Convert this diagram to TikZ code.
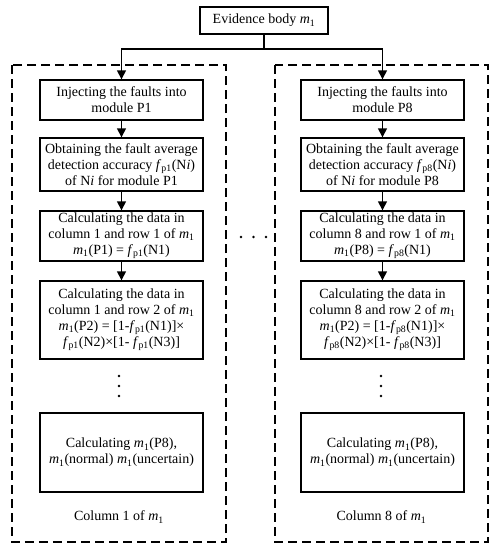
\documentclass[tikz,border=0pt]{standalone}
\usepackage{fontspec}
\setmainfont{Liberation Serif}
\usetikzlibrary{arrows.meta}
\newcommand{\mi}{\textit{m}\textsubscript{1}}
\newcommand{\fp}[1]{\textit{f}\textsubscript{p#1}}
\tikzset{
  stepbox/.style={draw, line width=1.4pt, align=center, inner sep=1pt, font=\fontsize{14}{16}\selectfont},
  colbox/.style={draw, dashed, dash pattern=on 9pt off 5pt, line width=1.3pt},
  arr/.style={line width=1.4pt, -{Triangle[length=9pt,width=9pt]}},
  lnk/.style={line width=1.4pt},
  lbl/.style={font=\fontsize{14}{16}\selectfont},
  dotn/.style={circle, fill, inner sep=0pt, minimum size=2.8pt}
}
\begin{document}
\begin{tikzpicture}[x=1pt,y=-1pt]
\useasboundingbox (0,0) rectangle (497,550);
% column frames
\draw[colbox] (12,65) rectangle (226,542);
\draw[colbox] (275,65) rectangle (488,542);
% top
\node[stepbox, minimum width=128pt, minimum height=27pt] (top) at (264,20.5) {Evidence body \mi};
\coordinate (split) at (264,49);
% left column
\node[stepbox, minimum width=163pt, minimum height=40pt] (L1) at (121.5,100) {Injecting the faults into\\module P1};
\node[stepbox, minimum width=163pt, minimum height=53pt] (L2) at (121.5,164.5) {Obtaining the fault average\\detection accuracy \fp{1}(N\textit{i})\\of N\textit{i} for module P1};
\node[stepbox, minimum width=163pt, minimum height=50pt] (L3) at (121.5,236) {Calculating the data in\\column 1 and row 1 of \mi\\\mi(P1) = \fp{1}(N1)};
\node[stepbox, minimum width=163pt, minimum height=78pt] (L4) at (121.5,320) {Calculating the data in\\column 1 and row 2 of \mi\\\mi(P2) = [1-\fp{1}(N1)]×\\\fp{1}(N2)×[1- \fp{1}(N3)]};
\node[stepbox, minimum width=163pt, minimum height=79pt] (L5) at (121.5,452.5) {Calculating \mi(P8),\\\mi(normal) \mi(uncertain)};
\node[dotn] (ld1) at (119,376) {};
\node[dotn] (ld2) at (119,386) {};
\node[dotn] (ld3) at (119,396) {};
\node[lbl] (lc) at (119,517) {Column 1 of \mi};
% right column
\node[stepbox, minimum width=163pt, minimum height=40pt] (R1) at (382.5,100) {Injecting the faults into\\module P8};
\node[stepbox, minimum width=163pt, minimum height=53pt] (R2) at (382.5,164.5) {Obtaining the fault average\\detection accuracy \fp{8}(N\textit{i})\\of N\textit{i} for module P8};
\node[stepbox, minimum width=163pt, minimum height=50pt] (R3) at (382.5,236) {Calculating the data in\\column 8 and row 1 of \mi\\\mi(P8) = \fp{8}(N1)};
\node[stepbox, minimum width=163pt, minimum height=78pt] (R4) at (382.5,320) {Calculating the data in\\column 8 and row 2 of \mi\\\mi(P2) = [1-\fp{8}(N1)]×\\\fp{8}(N2)×[1- \fp{8}(N3)]};
\node[stepbox, minimum width=163pt, minimum height=79pt] (R5) at (382.5,452.5) {Calculating \mi(P8),\\\mi(normal) \mi(uncertain)};
\node[dotn] (rd1) at (381,376) {};
\node[dotn] (rd2) at (381,386) {};
\node[dotn] (rd3) at (381,396) {};
\node[lbl] (rc) at (381.5,517) {Column 8 of \mi};
% middle dots
\node[dotn] (md1) at (241,237) {};
\node[dotn] (md2) at (253.5,237) {};
\node[dotn] (md3) at (266,237) {};
% connectors
\draw[lnk] (top.south) -- (split);
\draw[arr] (split) -| (L1.north);
\draw[arr] (split) -| (R1.north);
\draw[arr] (L1) -- (L2);
\draw[arr] (L2) -- (L3);
\draw[arr] (L3) -- (L4);
\draw[arr] (R1) -- (R2);
\draw[arr] (R2) -- (R3);
\draw[arr] (R3) -- (R4);
\end{tikzpicture}
\end{document}
